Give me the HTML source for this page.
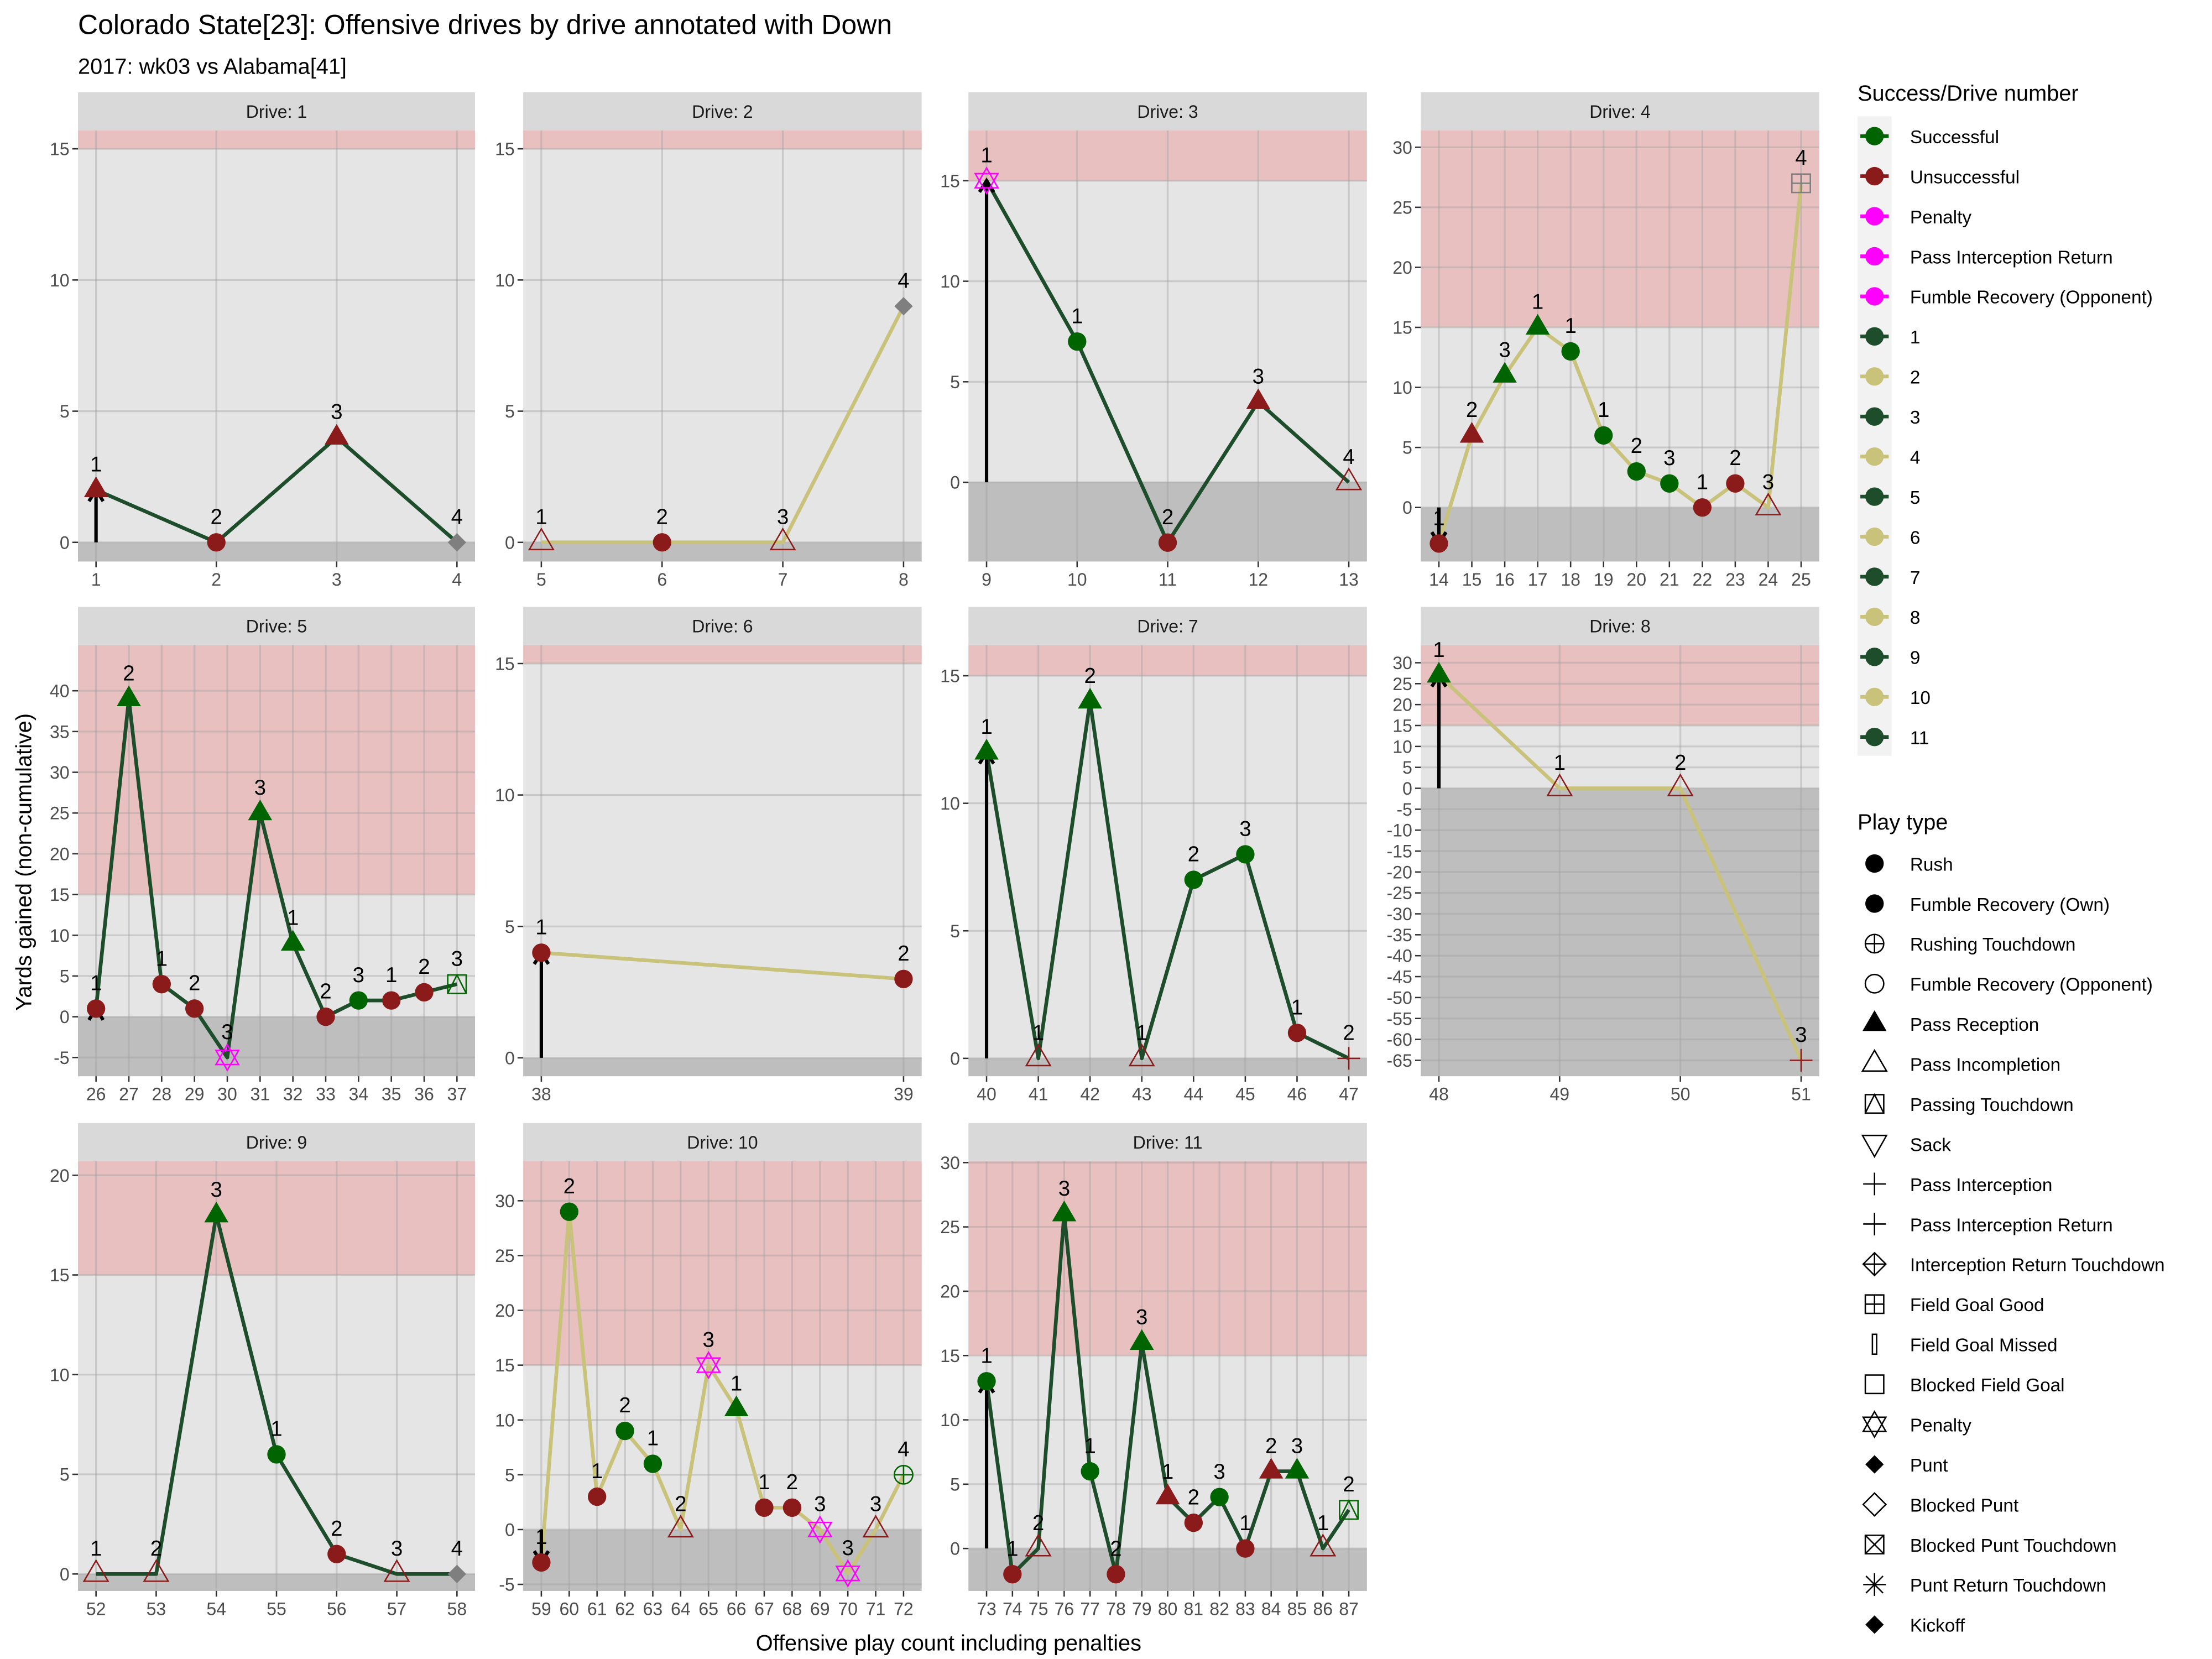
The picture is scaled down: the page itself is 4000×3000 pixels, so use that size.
<!DOCTYPE html>
<html><head><meta charset="utf-8">
<style>
html,body{margin:0;padding:0;background:#fff;}
svg{display:block;font-family:"Liberation Sans",Arial,sans-serif;}
</style></head>
<body>
<svg id="chart" width="4000" height="3000" viewBox="0 0 1560 1170" xmlns="http://www.w3.org/2000/svg">
<text x="55" y="24" font-size="19.5" fill="#000">Colorado State[23]: Offensive drives by drive annotated with Down</text>
<text x="55" y="52" font-size="15.5" fill="#000">2017: wk03 vs Alabama[41]</text>
<text transform="translate(22,608) rotate(-90)" text-anchor="middle" font-size="15.5" fill="#000">Yards gained (non-cumulative)</text>
<text x="669" y="1164" text-anchor="middle" font-size="15.5" fill="#000">Offensive play count including penalties</text>
<g id="panels"></g>
<g id="legend"></g>
</svg>
<script>
// ---- data (play number = index + 1) ----
const driveOf = [1,1,1,1, 2,2,2,2, 3,3,3,3,3, 4,4,4,4,4,4,4,4,4,4,4,4,
  5,5,5,5,5,5,5,5,5,5,5,5, 6,6, 7,7,7,7,7,7,7,7, 8,8,8,8, 9,9,9,9,9,9,9,
  10,10,10,10,10,10,10,10,10,10,10,10,10,10, 11,11,11,11,11,11,11,11,11,11,11,11,11,11,11];
const yards = [2,0,4,0, 0,0,0,9, 15,7,-3,4,0, -3,6,11,15,13,6,3,2,0,2,0,27,
  1,39,4,1,-5,25,9,0,2,2,3,4, 4,3, 12,0,14,0,7,8,1,0, 27,0,0,-65, 0,0,18,6,1,0,0,
  -3,29,3,9,6,0,15,11,2,2,0,-4,0,5, 13,-2,0,26,6,-2,16,4,2,4,0,6,6,0,3];
const downs = [1,2,3,4, 1,2,3,4, 1,1,2,3,4, 1,2,3,1,1,1,2,3,1,2,3,4,
  1,2,1,2,3,3,1,2,3,1,2,3, 1,2, 1,1,2,1,2,3,1,2, 1,1,2,3, 1,2,3,1,2,3,4,
  1,2,1,2,1,2,3,1,1,2,3,3,3,4, 1,1,2,3,1,2,3,1,2,3,1,2,3,1,2];
const playType = ['rec','rush','rec','punt', 'inc','rush','inc','punt', 'pen','rush','rush','rec','inc',
  'rush','rec','rec','rec','rush','rush','rush','rush','rush','rush','inc','fg',
  'rush','rec','rush','rush','pen','rec','rec','rush','rush','rush','rush','ptd', 'rush','rush',
  'rec','inc','rec','inc','rush','rush','rush','int', 'rec','inc','inc','int',
  'inc','inc','rec','rush','rush','inc','punt',
  'rush','rush','rush','rush','rush','inc','pen','rec','rush','rush','pen','pen','inc','rtd',
  'rush','rush','inc','rec','rush','rush','rec','rec','rush','rush','rush','rec','rec','inc','ptd'];
const outcome = ['U','U','U','N', 'U','U','U','N', 'P','S','U','U','U',
  'U','U','S','S','S','S','S','S','U','U','U','N',
  'U','S','U','U','P','S','S','U','S','U','U','S', 'U','U',
  'S','U','S','U','S','S','U','U', 'S','U','U','U',
  'U','U','S','S','U','U','N',
  'U','S','U','S','S','U','P','S','U','U','P','P','U','S',
  'S','U','U','S','S','U','S','U','U','S','U','U','S','U','S'];
const driveNums = [1,2,3,4,5,6,7,8,9,10,11];
const yMins = [-0.73,-0.73,-3.94,-4.5,-7.3,-0.7,-0.7,-68.8,-0.85,-5.6,-3.3];
const yMaxs = [15.7,15.7,17.5,31.4,45.6,15.7,16.2,34.2,20.7,33.6,30.1];
const yTickMaxs = [15,15,15,30,40,15,15,30,20,30,30];
const yTickSteps = [5,5,5,5,5,5,5,5,5,5,5];
const successLabels = ['Successful','Unsuccessful','Penalty','Pass Interception Return','Fumble Recovery (Opponent)','1','2','3','4','5','6','7','8','9','10','11'];
const playTypeLabels = ['Rush','Fumble Recovery (Own)','Rushing Touchdown','Fumble Recovery (Opponent)','Pass Reception','Pass Incompletion','Passing Touchdown','Sack','Pass Interception','Pass Interception Return','Interception Return Touchdown','Field Goal Good','Field Goal Missed','Blocked Field Goal','Penalty','Punt','Blocked Punt','Blocked Punt Touchdown','Punt Return Touchdown','Kickoff'];

// ---- layout ----
const colX = [[55,335],[369,650],[683,964],[1002,1283]];
const rowY = [[92,396],[455,759],[819,1122]];
const NS = 'http://www.w3.org/2000/svg';
const COL = {S:'#006400',U:'#8b1a1a',P:'#ff00ff',N:'#7f7f7f'};
const LINE = ['#1e4d2b','#c8c27a'];
function el(tag, attrs, parent){const e=document.createElementNS(NS,tag);for(const k in attrs)e.setAttribute(k,attrs[k]);parent.appendChild(e);return e;}

function drawMarker(g, t, cx, cy, col){
  let m;
  const s=8.5;
  if(t==='rush'){m=el('circle',{cx:cx,cy:cy,r:6.5,fill:col},g);}
  else if(t==='rec'){m=el('polygon',{points:`${cx},${cy-s-1} ${cx-s},${cy+s*0.6} ${cx+s},${cy+s*0.6}`,fill:col},g);}
  else if(t==='inc'){m=el('polygon',{points:`${cx},${cy-s-1} ${cx-s},${cy+s*0.6} ${cx+s},${cy+s*0.6}`,fill:'none',stroke:col,'stroke-width':1},g);}
  else if(t==='punt'){m=el('polygon',{points:`${cx},${cy-6.5} ${cx+6.5},${cy} ${cx},${cy+6.5} ${cx-6.5},${cy}`,fill:col},g);}
  else if(t==='fg'){m=el('g',{},g);el('rect',{x:cx-6.5,y:cy-6.5,width:13,height:13,fill:'none',stroke:col,'stroke-width':1},m);el('path',{d:`M${cx-6.5} ${cy}H${cx+6.5}M${cx} ${cy-6.5}V${cy+6.5}`,stroke:col,'stroke-width':1},m);}
  else if(t==='ptd'){m=el('g',{},g);el('rect',{x:cx-6.5,y:cy-6.5,width:13,height:13,fill:'none',stroke:col,'stroke-width':1},m);el('path',{d:`M${cx-6.5} ${cy+6.5}L${cx} ${cy-6.5}L${cx+6.5} ${cy+6.5}`,fill:'none',stroke:col,'stroke-width':1},m);}
  else if(t==='pen'){m=el('g',{},g);el('polygon',{points:`${cx},${cy-9} ${cx-8},${cy+5} ${cx+8},${cy+5}`,fill:'none',stroke:col,'stroke-width':1},m);el('polygon',{points:`${cx},${cy+9} ${cx-8},${cy-5} ${cx+8},${cy-5}`,fill:'none',stroke:col,'stroke-width':1},m);}
  else if(t==='int'){m=el('path',{d:`M${cx-8} ${cy}H${cx+8}M${cx} ${cy-8}V${cy+8}`,stroke:col,'stroke-width':1},g);}
  else if(t==='rtd'){m=el('g',{},g);el('circle',{cx:cx,cy:cy,r:6.5,fill:'none',stroke:col,'stroke-width':1},m);el('path',{d:`M${cx-6.5} ${cy}H${cx+6.5}M${cx} ${cy-6.5}V${cy+6.5}`,stroke:col,'stroke-width':1},m);}
  return m;
}

const panels = document.getElementById('panels');
driveNums.forEach((d, di) => {
  const [x0,x1] = colX[di%4], [y0,y1] = rowY[Math.floor(di/4)];
  const idx = []; driveOf.forEach((v,i)=>{ if(v===d) idx.push(i); });
  const pMin = idx[0]+1, pMax = idx[idx.length-1]+1;
  const pad = (pMax-pMin)*0.05 || 0.6;
  const xs = p => x0 + (p-(pMin-pad))/((pMax+pad)-(pMin-pad))*(x1-x0);
  const ys = v => y1 - (v-yMins[di])/(yMaxs[di]-yMins[di])*(y1-y0);
  const g = el('g',{},panels);
  
  
  const strip = el('rect',{x:x0,y:y0-27,width:x1-x0,height:27,fill:'#d9d9d9'},g);
  
  
  const st = el('text',{x:(x0+x1)/2,y:y0-9,'text-anchor':'middle','font-size':12.5,fill:'#1a1a1a'},g);
  st.textContent = 'Drive: '+d;
  
  
  el('rect',{x:x0,y:y0,width:x1-x0,height:y1-y0,fill:'#e5e5e5'},g);
  if(ys(15) > y0){ const rb=el('rect',{x:x0,y:y0,width:x1-x0,height:ys(15)-y0,fill:'#e8c0c0'},g);
      }
  const gb = el('rect',{x:x0,y:ys(0),width:x1-x0,height:y1-ys(0),fill:'#bebebe'},g);
  
  
  const step = yTickSteps[di];
  for(let v=Math.ceil(yMins[di]/step)*step; v<=yTickMaxs[di]; v+=step){
    const yy = ys(v);
    el('line',{x1:x0,x2:x1,y1:yy,y2:yy,stroke:'rgba(160,160,160,0.4)','stroke-width':1.3},g);
    el('line',{x1:x0-4,x2:x0,y1:yy,y2:yy,stroke:'#333','stroke-width':1},g);
    const tl = el('text',{x:x0-6,y:yy+4.5,'text-anchor':'end','font-size':12.5,fill:'#4d4d4d'},g);
    tl.textContent = v;
    
    
  }
  for(let p=pMin;p<=pMax;p++){
    const xx = xs(p);
    el('line',{x1:xx,x2:xx,y1:y0,y2:y1,stroke:'rgba(160,160,160,0.4)','stroke-width':1.3},g);
    el('line',{x1:xx,x2:xx,y1:y1,y2:y1+4,stroke:'#333','stroke-width':1},g);
    const tl = el('text',{x:xx,y:y1+17,'text-anchor':'middle','font-size':12.5,fill:'#4d4d4d'},g);
    tl.textContent = p;
    
    
  }
  const pts = idx.map(i=>`${xs(i+1)},${ys(yards[i])}`).join(' ');
  const ln = el('polyline',{points:pts,fill:'none',stroke:LINE[(d+1)%2],'stroke-width':2.6,'stroke-linejoin':'round'},g);
  
  
  const f = idx[0];
  if(yards[f]!==0){
    const ax = xs(f+1), ya = ys(0), yb = ys(yards[f]);
    const dir = yb<ya ? 1 : -1;
    const ar = el('path',{d:`M${ax} ${ya}V${yb}M${ax-5} ${yb+dir*8}L${ax} ${yb}L${ax+5} ${yb+dir*8}`,fill:'none',stroke:'#000','stroke-width':2.4},g);
    
    
  }
  idx.forEach(i=>{
    const cx=xs(i+1), cy=ys(yards[i]);
    const m = drawMarker(g, playType[i], cx, cy, COL[outcome[i]]);
    
    
    const lb = el('text',{x:cx,y:cy-13,'text-anchor':'middle','font-size':15,fill:'#000'},g);
    lb.textContent = downs[i];
    
    
  });
});

// ---- legends ----
const lg = document.getElementById('legend');
const t1 = el('text',{x:1310,y:71,'font-size':15.5,fill:'#000'},lg);
t1.textContent='Success/Drive number';


el('rect',{x:1310,y:82,width:24,height:451,fill:'#f2f2f2'},lg);
const keyCols = ['#006400','#8b1a1a','#ff00ff','#ff00ff','#ff00ff'];
successLabels.forEach((s,k)=>{
  const y = 96 + k*28.25;
  const c = k<5 ? keyCols[k] : LINE[(k-5)%2];
  const e = el('g',{},lg);
  
  
  el('line',{x1:1312,x2:1332,y1:y,y2:y,stroke:c,'stroke-width':2.6},e);
  el('ellipse',{cx:1322,cy:y,rx:6.5,ry:6.5,fill:c},e);
  const tx = el('text',{x:1347,y:y+5,'font-size':13,fill:'#000'},e); tx.textContent=s;
});
const t2 = el('text',{x:1310,y:585,'font-size':15.5,fill:'#000'},lg);
t2.textContent='Play type';


const legShapes = ['rush','rush','rtd','ocirc','rec','inc','ptd','sack','int','int','idia','fg','fgm','sq','pen','punt','odia','xsq','star','punt'];
playTypeLabels.forEach((s,k)=>{
  const y = 609 + k*28.25;
  const e = el('g',{},lg);
  
  
  const sh = legShapes[k], cx=1322;
  if(sh==='ocirc') el('circle',{cx:cx,cy:y,r:6.5,fill:'none',stroke:'#000'},e);
  else if(sh==='sack') el('polygon',{points:`${cx},${y+9} ${cx-8.5},${y-6} ${cx+8.5},${y-6}`,fill:'none',stroke:'#000'},e);
  else if(sh==='idia'){el('polygon',{points:`${cx},${y-8} ${cx+8},${y} ${cx},${y+8} ${cx-8},${y}`,fill:'none',stroke:'#000'},e);el('path',{d:`M${cx-8} ${y}H${cx+8}M${cx} ${y-8}V${y+8}`,stroke:'#000'},e);}
  else if(sh==='fgm') el('rect',{x:cx-1.5,y:y-7,width:3,height:14,fill:'none',stroke:'#000'},e);
  else if(sh==='sq') el('rect',{x:cx-6.5,y:y-6.5,width:13,height:13,fill:'none',stroke:'#000'},e);
  else if(sh==='odia') el('polygon',{points:`${cx},${y-8} ${cx+8},${y} ${cx},${y+8} ${cx-8},${y}`,fill:'none',stroke:'#000'},e);
  else if(sh==='xsq'){el('rect',{x:cx-6.5,y:y-6.5,width:13,height:13,fill:'none',stroke:'#000'},e);el('path',{d:`M${cx-6.5} ${y-6.5}L${cx+6.5} ${y+6.5}M${cx+6.5} ${y-6.5}L${cx-6.5} ${y+6.5}`,stroke:'#000'},e);}
  else if(sh==='star') el('path',{d:`M${cx-8} ${y}H${cx+8}M${cx} ${y-8}V${y+8}M${cx-6} ${y-6}L${cx+6} ${y+6}M${cx+6} ${y-6}L${cx-6} ${y+6}`,stroke:'#000'},e);
  else drawMarker(e, sh, cx, y, '#000');
  const tx = el('text',{x:1347,y:y+5,'font-size':13,fill:'#000'},e); tx.textContent=s;
});
</script>
</body></html>
